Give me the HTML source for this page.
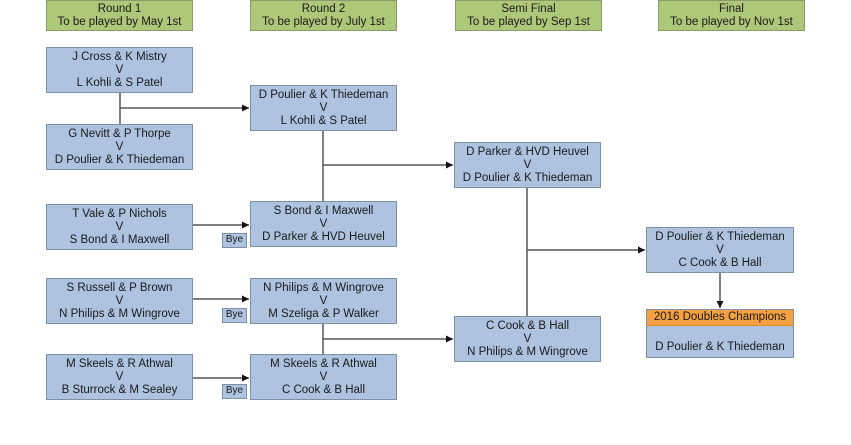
<!DOCTYPE html>
<html><head><style>
body{margin:0;width:851px;height:445px;background:#fff;position:relative;overflow:hidden;font-family:"Liberation Sans","DejaVu Sans",sans-serif;font-size:11.5px;color:#1a1a1a}
.b{position:absolute;box-sizing:border-box;border:1px solid #7f8fa6;background:#adc3e0;text-align:center;line-height:13px;padding-top:3px}
.h{position:absolute;box-sizing:border-box;border:1px solid #8a9a6a;background:#aec87a;text-align:center;line-height:13px;padding-top:2px}
.bye{position:absolute;box-sizing:border-box;border:1px solid #7f8fa6;background:#adc3e0;font-size:10px;text-align:center;line-height:12px;width:25px;height:15px}
svg{position:absolute;left:0;top:0}
</style></head><body>
<svg width="851" height="445"><defs><marker id="a" markerWidth="8" markerHeight="8" refX="7" refY="4" orient="auto" markerUnits="userSpaceOnUse"><path d="M0,0.5 L7,4 L0,7.5z" fill="#111"/></marker></defs>
<g stroke="#555" stroke-width="1.5" fill="none">
<line x1="120" y1="93" x2="120" y2="124"/>
<line x1="120" y1="108" x2="249" y2="108" marker-end="url(#a)"/>
<line x1="193" y1="225" x2="249" y2="225" marker-end="url(#a)"/>
<line x1="193" y1="299" x2="249" y2="299" marker-end="url(#a)"/>
<line x1="193" y1="378" x2="249" y2="378" marker-end="url(#a)"/>
<line x1="323" y1="131" x2="323" y2="201"/>
<line x1="323" y1="165" x2="453" y2="165" marker-end="url(#a)"/>
<line x1="323" y1="324" x2="323" y2="354"/>
<line x1="323" y1="339" x2="453" y2="339" marker-end="url(#a)"/>
<line x1="527" y1="188" x2="527" y2="316"/>
<line x1="527" y1="250" x2="645" y2="250" marker-end="url(#a)"/>
<line x1="720" y1="273" x2="720" y2="308" marker-end="url(#a)"/>
</g></svg>
<div class="h" style="left:46px;top:0;width:147px;height:31px">Round 1<br>To be played by May 1st</div>
<div class="h" style="left:250px;top:0;width:147px;height:31px">Round 2<br>To be played by July 1st</div>
<div class="h" style="left:455px;top:0;width:147px;height:31px">Semi Final<br>To be played by Sep 1st</div>
<div class="h" style="left:658px;top:0;width:147px;height:31px">Final<br>To be played by Nov 1st</div>

<div class="b" style="left:46px;top:47px;width:147px;height:46px">J Cross &amp; K Mistry<br>V<br>L Kohli &amp; S Patel</div>
<div class="b" style="left:46px;top:124px;width:147px;height:46px">G Nevitt &amp; P Thorpe<br>V<br>D Poulier &amp; K Thiedeman</div>
<div class="b" style="left:46px;top:204px;width:147px;height:46px">T Vale &amp; P Nichols<br>V<br>S Bond &amp; I Maxwell</div>
<div class="b" style="left:46px;top:278px;width:147px;height:46px">S Russell &amp; P Brown<br>V<br>N Philips &amp; M Wingrove</div>
<div class="b" style="left:46px;top:354px;width:147px;height:46px">M Skeels &amp; R Athwal<br>V<br>B Sturrock &amp; M Sealey</div>

<div class="b" style="left:250px;top:85px;width:147px;height:46px">D Poulier &amp; K Thiedeman<br>V<br>L Kohli &amp; S Patel</div>
<div class="b" style="left:250px;top:201px;width:147px;height:46px">S Bond &amp; I Maxwell<br>V<br>D Parker &amp; HVD Heuvel</div>
<div class="b" style="left:250px;top:278px;width:147px;height:46px">N Philips &amp; M Wingrove<br>V<br>M Szeliga &amp; P Walker</div>
<div class="b" style="left:250px;top:354px;width:147px;height:46px">M Skeels &amp; R Athwal<br>V<br>C Cook &amp; B Hall</div>

<div class="bye" style="left:222px;top:233px">Bye</div>
<div class="bye" style="left:222px;top:308px">Bye</div>
<div class="bye" style="left:222px;top:384px">Bye</div>

<div class="b" style="left:454px;top:142px;width:147px;height:46px">D Parker &amp; HVD Heuvel<br>V<br>D Poulier &amp; K Thiedeman</div>
<div class="b" style="left:454px;top:316px;width:147px;height:46px">C Cook &amp; B Hall<br>V<br>N Philips &amp; M Wingrove</div>

<div class="b" style="left:646px;top:227px;width:148px;height:46px">D Poulier &amp; K Thiedeman<br>V<br>C Cook &amp; B Hall</div>
<div class="b" style="left:646px;top:309px;width:148px;height:49px;padding-top:0">
<div style="background:#f4a043;border-bottom:1px solid #e08a20;height:15px;line-height:15px">2016 Doubles Champions</div>
<div style="padding-top:15px">D Poulier &amp; K Thiedeman</div></div>
</body></html>
